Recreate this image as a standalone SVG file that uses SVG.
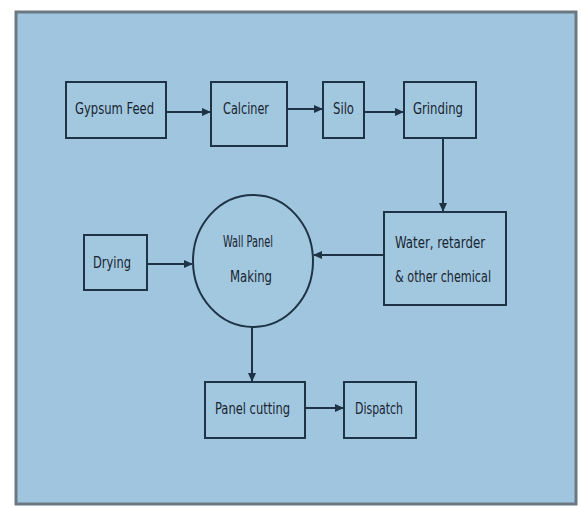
<svg xmlns="http://www.w3.org/2000/svg" width="581" height="508" viewBox="0 0 581 508">
<style>
.box{fill:#a2c8e0;stroke:#1e3446;stroke-width:2}
.lbl{font-family:"DejaVu Sans Condensed","Liberation Sans",sans-serif;font-size:16px;fill:#18242f}
.con{stroke:#1e3446;stroke-width:2;fill:none}
</style>
<defs>
<marker id="ah" markerWidth="9" markerHeight="9" refX="8" refY="4.5" orient="auto" markerUnits="userSpaceOnUse">
<path d="M0,0.5 L9,4.5 L0,8.5 Z" fill="#1e3446"/>
</marker>
</defs>
<rect x="0" y="0" width="581" height="508" fill="#ffffff"/>
<rect x="16" y="12" width="560" height="492" fill="#a0c6df" stroke="#6a7884" stroke-width="3"/>
<g id="connectors">
<line class="con" x1="166" y1="112" x2="210" y2="112" marker-end="url(#ah)"/>
<line class="con" x1="288" y1="109" x2="322" y2="109" marker-end="url(#ah)"/>
<line class="con" x1="365" y1="112" x2="403" y2="112" marker-end="url(#ah)"/>
<line class="con" x1="443" y1="138" x2="443" y2="211" marker-end="url(#ah)"/>
<line class="con" x1="384" y1="255" x2="314" y2="255" marker-end="url(#ah)"/>
<line class="con" x1="147" y1="264" x2="192" y2="264" marker-end="url(#ah)"/>
<line class="con" x1="252" y1="327" x2="252" y2="381" marker-end="url(#ah)"/>
<line class="con" x1="305" y1="408" x2="343" y2="408" marker-end="url(#ah)"/>
</g>
<g id="gypsum-feed">
<rect class="box" x="66" y="82" width="100" height="56"/>
<text class="lbl" x="75" y="114" textLength="79" lengthAdjust="spacingAndGlyphs">Gypsum Feed</text>
</g>
<g id="calciner">
<rect class="box" x="211" y="82" width="76" height="64"/>
<text class="lbl" x="223" y="114" textLength="46" lengthAdjust="spacingAndGlyphs">Calciner</text>
</g>
<g id="silo">
<rect class="box" x="323" y="82" width="41" height="56"/>
<text class="lbl" x="333" y="114" textLength="21" lengthAdjust="spacingAndGlyphs">Silo</text>
</g>
<g id="grinding">
<rect class="box" x="404" y="82" width="72" height="56"/>
<text class="lbl" x="413" y="114" textLength="50" lengthAdjust="spacingAndGlyphs">Grinding</text>
</g>
<g id="water">
<rect class="box" x="384" y="212" width="122" height="93"/>
<text class="lbl" x="395" y="248" textLength="90" lengthAdjust="spacingAndGlyphs">Water, retarder</text>
<text class="lbl" x="395" y="282" textLength="96" lengthAdjust="spacingAndGlyphs">&amp; other chemical</text>
</g>
<g id="wall-panel-making">
<ellipse class="box" cx="253" cy="261" rx="60" ry="66"/>
<text class="lbl" x="223" y="247" textLength="50" lengthAdjust="spacingAndGlyphs">Wall Panel</text>
<text class="lbl" x="230" y="282" textLength="42" lengthAdjust="spacingAndGlyphs">Making</text>
</g>
<g id="drying">
<rect class="box" x="84" y="235" width="63" height="55"/>
<text class="lbl" x="93" y="268" textLength="38" lengthAdjust="spacingAndGlyphs">Drying</text>
</g>
<g id="panel-cutting">
<rect class="box" x="205" y="382" width="100" height="56"/>
<text class="lbl" x="215" y="414" textLength="75" lengthAdjust="spacingAndGlyphs">Panel cutting</text>
</g>
<g id="dispatch">
<rect class="box" x="344" y="382" width="72" height="56"/>
<text class="lbl" x="355" y="414" textLength="48" lengthAdjust="spacingAndGlyphs">Dispatch</text>
</g>
</svg>
